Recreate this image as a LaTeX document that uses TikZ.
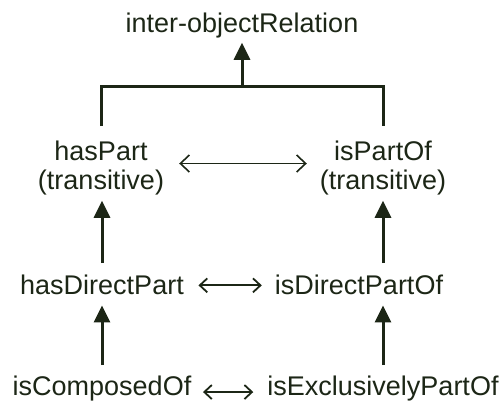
\documentclass[tikz,border=0pt]{standalone}
\usepackage{fontspec}
\setmainfont{Liberation Sans}
\usetikzlibrary{arrows.meta}
\definecolor{ink}{RGB}{28,38,22}
\begin{document}
\begin{tikzpicture}[x=1pt,y=-1pt,
  lbl/.style={text=ink, inner sep=0pt, anchor=base, align=center,
    font=\fontsize{27}{29}\selectfont},
  isa/.style={draw=ink, line width=3pt, -{Triangle[width=16pt,length=17pt]}},
  tree/.style={draw=ink, line width=3pt},
  inv/.style={draw=ink, line width=1.6pt, {Straight Barb[width=17pt,length=9pt]}-{Straight Barb[width=17pt,length=9pt]}},
  invs/.style={draw=ink, line width=1.8pt, {Straight Barb[width=14pt,length=7.5pt]}-{Straight Barb[width=14pt,length=7.5pt]}}]
\useasboundingbox (0,0) rectangle (503,402);

% relation names
\node[lbl] (rel) at (242,32) {inter-objectRelation};
\node[lbl] (hp)  at (101,189) {hasPart\\(transitive)};
\node[lbl] (ipo) at (383,189) {isPartOf\\(transitive)};
\node[lbl] (hdp) at (102,294) {hasDirectPart};
\node[lbl] (idp) at (359,294) {isDirectPartOf};
\node[lbl] (ico) at (102,395) {isComposedOf};
\node[lbl] (iep) at (383,395) {isExclusivelyPartOf};

% generalisation tree up to inter-objectRelation
\coordinate (lt) at (hp.north |- 0,86);
\coordinate (rt) at (ipo.north |- 0,86);
\coordinate (mid) at (rel.south |- 0,86);
\draw[tree] ([yshift=14pt]hp.north) -- (lt) -- (rt) -- ([yshift=14pt]ipo.north);
\draw[isa, shorten >=5pt] (mid) -- (rel.south);

% sub-relation arrows
\draw[isa, shorten <=11pt, shorten >=6pt] (hdp.north) -- (hdp.north |- hp.south);
\draw[isa, shorten <=11pt, shorten >=6pt] (ipo.south |- idp.north) -- (ipo.south);
\draw[isa, shorten <=10pt, shorten >=11pt] (ico.north) -- (ico.north |- hdp.south);
\draw[isa, shorten <=10pt, shorten >=11pt] (iep.north) -- (iep.north |- idp.south);

% inverse pairs
\draw[inv, shorten <=15pt, shorten >=13pt] ([yshift=4pt]hp.east) -- ([yshift=4pt]ipo.west);
\draw[invs, shorten <=14.5pt, shorten >=13pt] ([yshift=-1pt]hdp.east) -- ([yshift=-1pt]idp.west);
\draw[invs, shorten <=11.5pt, shorten >=14pt] ([yshift=-4pt]ico.east) -- ([yshift=-4pt]iep.west);
\end{tikzpicture}
\end{document}
